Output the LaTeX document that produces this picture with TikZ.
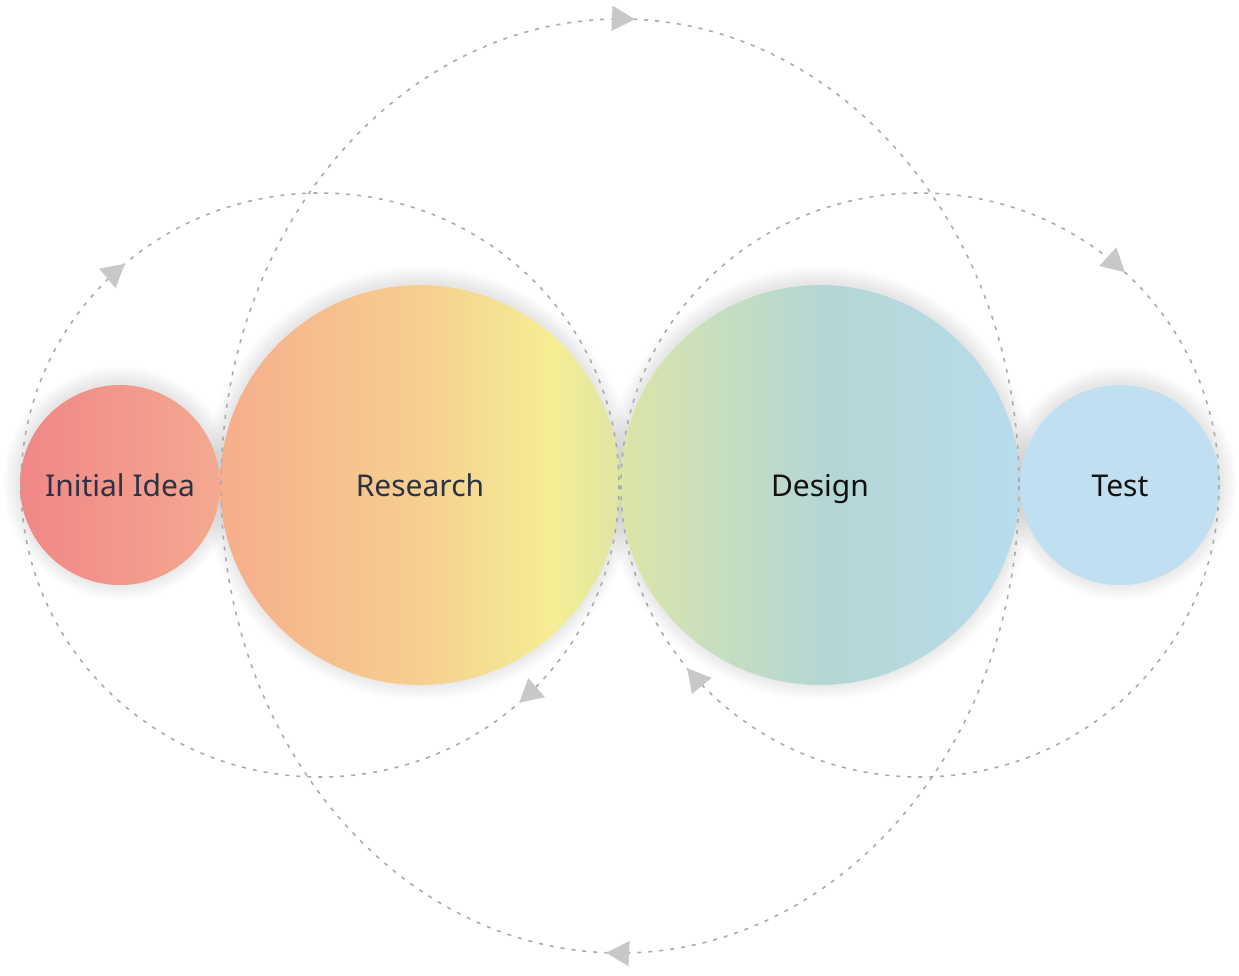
\documentclass[tikz,border=0pt]{standalone}
\usepackage{fontspec}
\setmainfont{Noto Sans}
\usetikzlibrary{positioning, arrows.meta, decorations.markings, backgrounds}

\definecolor{inkdark}{HTML}{2C3145}
\definecolor{inkblack}{HTML}{111111}
\definecolor{loopgray}{HTML}{ABABAB}
\definecolor{tipgray}{HTML}{C8C8C8}
\definecolor{ideaL}{HTML}{F08787}
\definecolor{ideaR}{HTML}{F4A98F}
\definecolor{resA}{HTML}{F6AD8B}
\definecolor{resB}{HTML}{F6CF8F}
\definecolor{resC}{HTML}{F5EE94}
\definecolor{resD}{HTML}{DFE5A4}
\definecolor{desA}{HTML}{DDE5A6}
\definecolor{desB}{HTML}{C6DEC0}
\definecolor{desC}{HTML}{B4D7D4}
\definecolor{desD}{HTML}{B8DCEC}
\definecolor{testfill}{HTML}{C0DFF1}

% stops live between 25bp and 75bp, the part that covers the node
\pgfdeclarehorizontalshading{ideashade}{100bp}{color(0bp)=(ideaL); color(25bp)=(ideaL); color(75bp)=(ideaR); color(100bp)=(ideaR)}
\pgfdeclarehorizontalshading{researchshade}{100bp}{color(0bp)=(resA); color(25bp)=(resA); color(50bp)=(resB); color(66.5bp)=(resC); color(75bp)=(resD); color(100bp)=(resD)}
\pgfdeclarehorizontalshading{designshade}{100bp}{color(0bp)=(desA); color(25bp)=(desA); color(37.5bp)=(desB); color(51bp)=(desC); color(75bp)=(desD); color(100bp)=(desD)}

\tikzset{loopTip/.tip={Triangle[length=23pt, width=25pt, color=tipgray]}}

\begin{document}
\begin{tikzpicture} [ x=1pt, y=-1pt
                    , font=\fontsize{30}{36}\selectfont
                    , node distance=0pt
                    , phase/.style={circle, inner sep=0pt, outer sep=0pt, text height=22pt, text depth=0pt}
                    , cycleline/.style={draw=loopgray, line width=1.6pt, dash pattern=on 4pt off 7pt}
                    ]

  \useasboundingbox (0,0) rectangle (1239,976);

  % --- Phases ----------------------------------------------------------------
  \node [ phase
        , minimum size=200pt
        , shading=ideashade
        , text=inkdark
        ]
        (idea) at (120,485) {Initial Idea};

  \node [ phase
        , minimum size=400pt
        , shading=researchshade
        , text=inkdark
        , right=of idea
        ]
        (research) {Research};

  \node [ phase
        , minimum size=400pt
        , shading=designshade
        , text=inkblack
        , right=of research
        ]
        (design) {Design};

  \node [ phase
        , minimum size=200pt
        , fill=testfill
        , text=inkblack
        , right=of design
        ]
        (test) {Test};
  % ---------------------------------------------------------------------------

  % --- Soft shadows ----------------------------------------------------------
  \begin{scope}[on background layer]
    \foreach \n/\r in {idea/100, research/200, design/200, test/100}
      \foreach \k in {1,...,12}
        \fill [black, opacity=0.008] ([yshift=2pt]\n.center) circle ({\r+1.4*\k});
  \end{scope}
  % ---------------------------------------------------------------------------

  % --- Loops -----------------------------------------------------------------
  \coordinate (leftloop)  at (320,485);
  \coordinate (rightloop) at (920,485);
  \coordinate (bigloop)   at (620,486);

  \draw [ cycleline
        , postaction={decorate, decoration={markings,
            mark=at position 0.133 with {\arrow{loopTip}},
            mark=at position 0.636 with {\arrow{loopTip}}}}
        ]
        (leftloop) ++(299,0) arc [start angle=0, end angle=360, x radius=299, y radius=292];

  \draw [ cycleline
        , postaction={decorate, decoration={markings,
            mark=at position 0.393 with {\arrow{loopTip}},
            mark=at position 0.871 with {\arrow{loopTip}}}}
        ]
        (rightloop) ++(299,0) arc [start angle=0, end angle=360, x radius=299, y radius=292];

  \draw [ cycleline
        , postaction={decorate, decoration={markings,
            mark=at position 0.2551 with {\arrow{loopTip}},
            mark=at position 0.7555 with {\arrow{loopTip}}}}
        ]
        (bigloop) ++(399,0) arc [start angle=0, end angle=360, x radius=399, y radius=467];
  % ---------------------------------------------------------------------------
\end{tikzpicture}
\end{document}
